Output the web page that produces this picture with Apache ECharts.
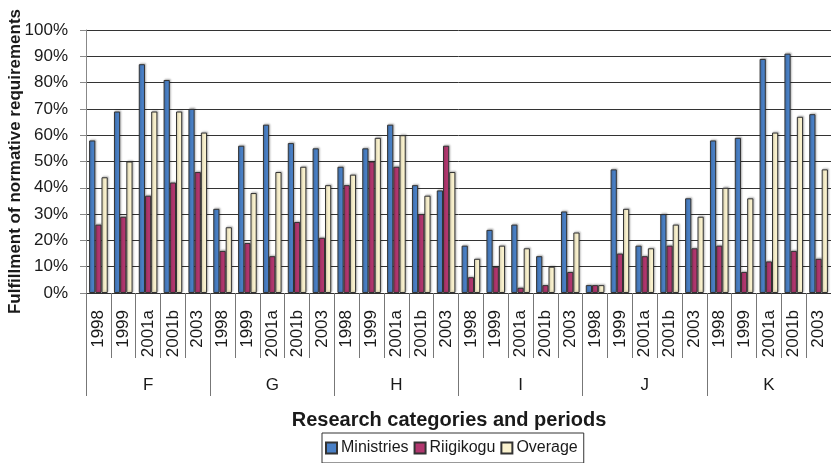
<!DOCTYPE html>
<html>
<head>
<meta charset="utf-8">
<script src="https://cdn.jsdelivr.net/npm/echarts@6/dist/echarts.min.js"></script>
<style>
  html, body { margin: 0; padding: 0; background: #fff; }
  #chart { width: 831px; height: 463px; }
</style>
</head>
<body>
<div id="chart"></div>
<script>
var groups = ['F', 'G', 'H', 'I', 'J', 'K']
var periods = ['1998', '1999', '2001a', '2001b', '2003']
var years = []
groups.forEach(function () { years = years.concat(periods) })

var ministries = [
  58, 69, 87, 81, 70,
  32, 56, 64, 57, 55,
  48, 55, 64, 41, 39,
  18, 24, 26, 14, 31,
  3, 47, 18, 30, 36,
  58, 59, 89, 91, 68
]
var riigikogu = [
  26, 29, 37, 42, 46,
  16, 19, 14, 27, 21,
  41, 50, 48, 30, 56,
  6, 10, 2, 3, 8,
  3, 15, 14, 18, 17,
  18, 8, 12, 16, 13
]
var overage = [
  44, 50, 69, 69, 61,
  25, 38, 46, 48, 41,
  45, 59, 60, 37, 46,
  13, 18, 17, 10, 23,
  3, 32, 17, 26, 29,
  40, 36, 61, 67, 47
]

var font = 'Liberation Sans, Arial, sans-serif'

function barSeries (name, color, data) {
  return {
    name: name,
    type: 'bar',
    xAxisIndex: 0,
    barGap: 0,
    barCategoryGap: '25%',
    itemStyle: {
      color: color,
      borderColor: '#333',
      borderWidth: 1,
      shadowColor: 'rgba(0,0,0,0.25)',
      shadowBlur: 2,
      shadowOffsetX: 1,
      shadowOffsetY: -1
    },
    data: data
  }
}

var myChart = echarts.init(document.getElementById('chart'))
var option = {
  animation: false,
  textStyle: { fontFamily: font },
  grid: { left: 86, top: 30, right: 0, bottom: 170, outerBoundsMode: 'none', containLabel: false },
  title: {
    text: 'Research categories and periods',
    left: 449,
    top: 410,
    padding: 0,
    textAlign: 'center',
    textStyle: { fontFamily: font, fontSize: 20, fontWeight: 'bold', color: '#1a1a1a' }
  },
  legend: {
    data: ['Ministries', 'Riigikogu', 'Overage'],
    left: 322,
    top: 433,
    padding: [7, 6, 7, 3],
    itemGap: 5,
    itemWidth: 11,
    itemHeight: 11,
    icon: 'rect',
    borderColor: '#333',
    borderWidth: 1,
    borderRadius: 0,
    textStyle: { fontFamily: font, fontSize: 16, color: '#1a1a1a', padding: [0, 0, 0, -1] }
  },
  xAxis: [
    {
      type: 'category',
      data: years,
      position: 'bottom',
      axisLine: { lineStyle: { color: '#333', width: 1 } },
      axisTick: { show: true, interval: 0, length: 65, lineStyle: { color: '#777' } },
      axisLabel: { interval: 0, rotate: 90, margin: 17, fontSize: 17, color: '#1a1a1a', fontFamily: font },
      splitLine: { show: false }
    },
    {
      type: 'category',
      data: groups,
      position: 'bottom',
      offset: 65,
      axisLine: { show: false },
      axisTick: { show: true, interval: 0, length: 38, lineStyle: { color: '#777' } },
      axisLabel: { interval: 0, margin: 19, fontSize: 17, color: '#1a1a1a', fontFamily: font },
      splitLine: { show: false }
    }
  ],
  yAxis: {
    type: 'value',
    min: 0,
    max: 100,
    interval: 10,
    name: 'Fulfillment of normative requirements',
    nameLocation: 'middle',
    nameGap: 62,
    nameMoveOverlap: false,
    nameTextStyle: { fontFamily: font, fontSize: 17, fontWeight: 'bold', color: '#1a1a1a' },
    axisLine: { show: true, lineStyle: { color: '#888' } },
    axisTick: { show: true, length: 6, lineStyle: { color: '#888' } },
    axisLabel: { formatter: '{value}%', margin: 18, fontSize: 17, color: '#1a1a1a', fontFamily: font },
    splitLine: { show: true, lineStyle: { color: '#333', width: 1 } }
  },
  series: [
    barSeries('Ministries', '#4a80c6', ministries),
    barSeries('Riigikogu', '#b2376f', riigikogu),
    barSeries('Overage', '#fbf3cf', overage)
  ]
}
myChart.setOption(option)
</script>
</body>
</html>
